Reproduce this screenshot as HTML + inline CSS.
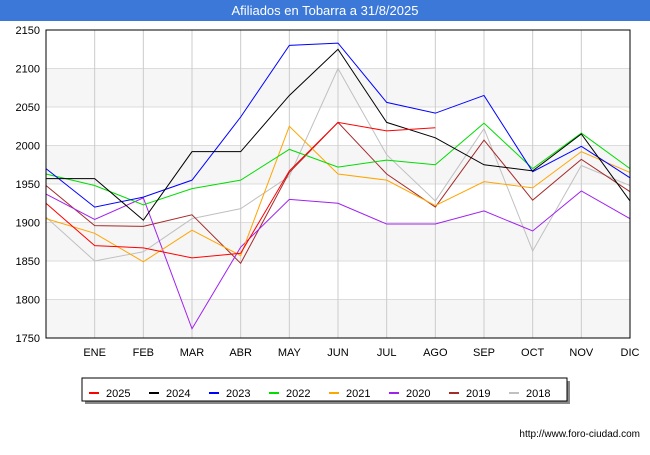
<!DOCTYPE html>
<html><head><meta charset="utf-8"><style>
body{margin:0;background:#fff;font-family:"Liberation Sans",sans-serif}
</style></head><body>
<svg width="650" height="450" xmlns="http://www.w3.org/2000/svg" font-family="Liberation Sans, sans-serif">
<rect x="0" y="0" width="650" height="21" fill="#3b78d8"/>
<text x="325" y="15" fill="#fff" font-size="13" text-anchor="middle">Afiliados en Tobarra a 31/8/2025</text>
<g id="bands"></g><g id="grid"></g><g id="series"></g>
<rect x="46" y="30" width="584" height="308" fill="none" stroke="#000" stroke-width="1"/>
<g id="ylab" font-size="11" text-anchor="end"></g>
<g id="xlab" font-size="11" text-anchor="middle"></g>
<rect x="85" y="381" width="485" height="23" fill="#888"/>
<rect x="82" y="378" width="485" height="23" fill="#fff" stroke="#000"/>
<g id="legend" font-size="11"></g>
<text x="640" y="437" font-size="10" text-anchor="end">http://www.foro-ciudad.com</text>
</svg>
<script>
const months=["","ENE","FEB","MAR","ABR","MAY","JUN","JUL","AGO","SEP","OCT","NOV","DIC"];
const yTicks=[1750,1800,1850,1900,1950,2000,2050,2100,2150];
const seriesNames=["2025","2024","2023","2022","2021","2020","2019","2018"];
const seriesColors=["#ff0000","#000000","#0000ff","#00dd00","#ffa500","#a020f0","#a52a2a","#c0c0c0"];
const s2025=[1925,1870,1867,1854,1860,1967,2030,2019,2023];
const s2024=[1957,1957,1903,1992,1992,2065,2125,2030,2010,1975,1967,2015,1928];
const s2023=[1970,1920,1933,1955,2037,2130,2133,2056,2042,2065,1966,1999,1958];
const s2022=[1963,1948,1923,1944,1955,1995,1972,1981,1975,2029,1970,2016,1970];
const s2021=[1905,1886,1849,1890,1857,2025,1963,1955,1922,1953,1945,1992,1965];
const s2020=[1937,1904,1932,1762,1868,1930,1925,1898,1898,1915,1889,1941,1905];
const s2019=[1948,1896,1895,1910,1847,1965,2030,1963,1920,2007,1929,1982,1940];
const s2018=[1907,1850,1862,1905,1918,1960,2100,1988,1928,2022,1863,1974,1948];
const allSeries=[s2025,s2024,s2023,s2022,s2021,s2020,s2019,s2018];
const NS="http://www.w3.org/2000/svg";
const X0=46,X1=630,Y0=338,Y1=30;
const xs=i=>X0+i*(X1-X0)/12;
const ys=v=>Y0-(v-1750)*(Y0-Y1)/400;
function mk(t,a,p){const e=document.createElementNS(NS,t);for(const k in a)e.setAttribute(k,a[k]);p.appendChild(e);return e;}
const bands=document.getElementById('bands'),grid=document.getElementById('grid');
for(let i=0;i<yTicks.length-1;i++){
  if(i%2===0){const r=mk('rect',{x:X0,y:ys(yTicks[i+1]),width:X1-X0,height:ys(yTicks[i])-ys(yTicks[i+1]),fill:'#f6f6f6'},bands);
  
  }
}
const yl=document.getElementById('ylab');
yTicks.forEach(v=>{
  const l=mk('line',{x1:X0,x2:X1,y1:ys(v),y2:ys(v),stroke:'#dcdcdc'},grid);
  
  
  const t=mk('text',{x:40,y:ys(v)+4},yl);t.textContent=v;
  
  
});
const xl=document.getElementById('xlab');
months.forEach((m,i)=>{
  if(i===0)return;
  const l=mk('line',{x1:xs(i),x2:xs(i),y1:Y1,y2:Y0,stroke:'#cccccc'},grid);
  
  
  const t=mk('text',{x:xs(i),y:356},xl);t.textContent=m;
  
  
});
const sg=document.getElementById('series');
for(let k=allSeries.length-1;k>=0;k--){
  const d=allSeries[k].map((v,i)=>xs(i)+','+ys(v)).join(' ');
  const p=mk('polyline',{points:d,fill:'none',stroke:seriesColors[k],'stroke-width':1},sg);
  
  
}
const lg=document.getElementById('legend');
seriesNames.forEach((n,k)=>{
  const x=89+k*60;
  const l=mk('line',{x1:x,x2:x+10,y1:393,y2:393,stroke:seriesColors[k],'stroke-width':2},lg);
  
  
  const t=mk('text',{x:x+17,y:397},lg);t.textContent=n;
  
  
});
</script>
</body></html>
